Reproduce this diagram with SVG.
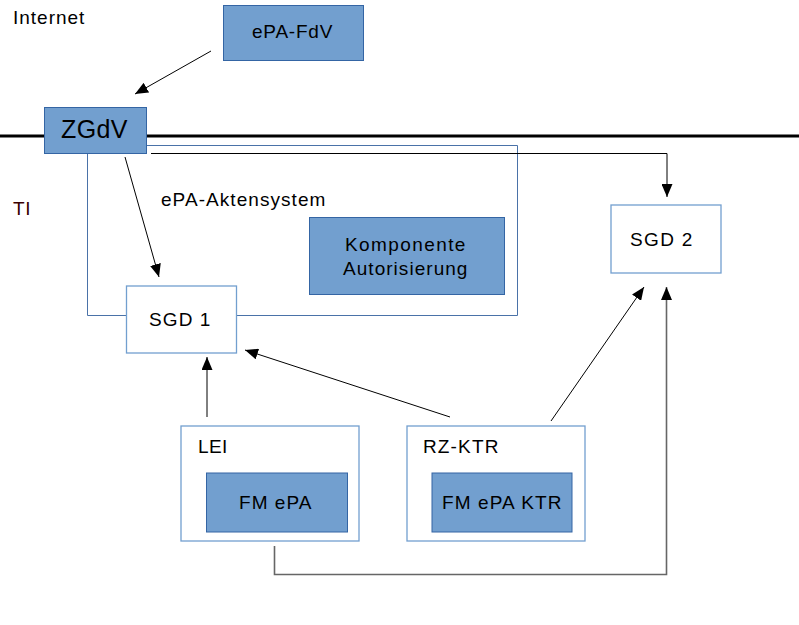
<svg xmlns="http://www.w3.org/2000/svg" width="799" height="625" viewBox="0 0 799 625">
<defs>
<marker id="ah" markerWidth="13" markerHeight="11" refX="13" refY="5.5" orient="auto" markerUnits="userSpaceOnUse">
<path d="M0,0 L13,5.5 L0,11 Z" fill="#000"/>
</marker>
</defs>
<style>
text{font-family:"Liberation Sans",Arial,sans-serif;font-size:19px;letter-spacing:0.6px;fill:#000}
.blue{fill:#729fcf;stroke:#3465a4;stroke-width:1}
.white{fill:#fff;stroke:#729fcf;stroke-width:1.3}
.cont{fill:none;stroke:#4a72a8;stroke-width:1}
.c{fill:none;stroke:#000;stroke-width:1}
.g{fill:none;stroke:#666;stroke-width:1.6}
</style>
<rect width="799" height="625" fill="#fff"/>
<text x="13" y="24" textLength="72">Internet</text>
<text x="13" y="215" style="fill:#3a0000">TI</text>
<line x1="0" y1="136" x2="799" y2="136" stroke="#000" stroke-width="3"/>
<g id="aktensystem">
<path class="cont" d="M147,145.5 H517.5 V315.5 H87.5 V153"/>
<text x="161" y="206" textLength="165">ePA-Aktensystem</text>
</g>
<g id="connectors">
<line class="c" x1="211" y1="51" x2="135" y2="94" marker-end="url(#ah)"/>
<line class="c" x1="125" y1="157" x2="159" y2="277" marker-end="url(#ah)"/>
<path class="c" d="M151,153.5 H667 V197" marker-end="url(#ah)"/>
<line class="c" x1="207" y1="417" x2="207" y2="357" marker-end="url(#ah)"/>
<line class="c" x1="450" y1="417" x2="245" y2="350" marker-end="url(#ah)"/>
<line class="c" x1="551" y1="421" x2="644" y2="287" marker-end="url(#ah)"/>
<path class="g" d="M274.5,546 V574.5 H666.5 V287" marker-end="url(#ah)"/>
</g>
<g id="epa-fdv">
<rect class="blue" x="223.5" y="5.5" width="140" height="55"/>
<text x="252" y="38" textLength="81">ePA-FdV</text>
</g>
<g id="zgdv">
<rect class="blue" x="44.5" y="107.5" width="102" height="46"/>
<text x="61" y="138" textLength="67" style="font-size:25px">ZGdV</text>
</g>
<g id="komponente">
<rect class="blue" x="309.5" y="217.5" width="195" height="77"/>
<text x="345" y="251" textLength="121">Komponente</text>
<text x="343" y="275" textLength="125">Autorisierung</text>
</g>
<g id="sgd1">
<rect class="white" x="126.5" y="286" width="110" height="67"/>
<text x="149" y="326" textLength="62">SGD 1</text>
</g>
<g id="sgd2">
<rect class="white" x="611" y="205" width="110" height="68"/>
<text x="630" y="246" textLength="63">SGD 2</text>
</g>
<g id="lei">
<rect class="white" x="181" y="426" width="178" height="115"/>
<text x="198" y="453" textLength="30">LEI</text>
<rect class="blue" x="206.5" y="473" width="141" height="59"/>
<text x="239" y="509" textLength="73">FM ePA</text>
</g>
<g id="rz-ktr">
<rect class="white" x="407" y="426" width="178" height="115"/>
<text x="423" y="453" textLength="76">RZ-KTR</text>
<rect class="blue" x="432" y="473" width="140" height="59"/>
<text x="442" y="509" textLength="120">FM ePA KTR</text>
</g>
</svg>
